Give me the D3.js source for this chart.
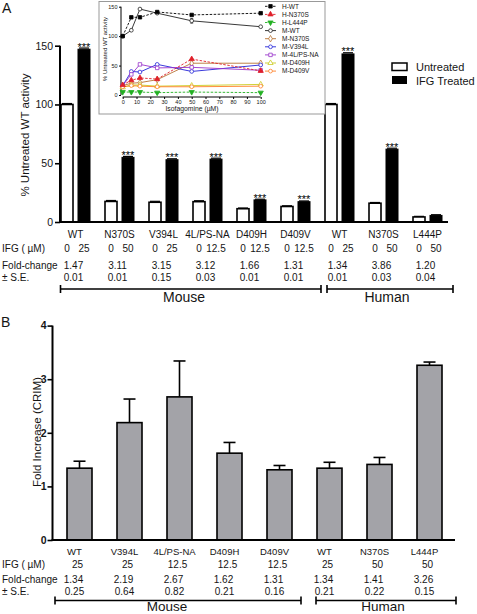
<!DOCTYPE html>
<html><head><meta charset="utf-8">
<script src="https://cdn.jsdelivr.net/npm/d3@7"></script>
<style>
html,body{margin:0;padding:0;background:#fff;}
svg{display:block;font-family:"Liberation Sans",Arial,sans-serif;}
</style></head>
<body>
<svg id="c" width="477" height="614"></svg>
<script>
// ---------- Panel A data ----------
const groupsA = ["WT","N370S","V394L","4L/PS-NA","D409H","D409V","WT","N370S","L444P"];
const untreatedA = [100,17.5,16.8,17.3,11.3,13.2,100,16,4.3];
const treatedA = [147,55,53,53.5,18.8,17.3,143,62,5.6];
const errUntreatedA = [0.8,0.8,0.8,0.8,0.6,0.6,0.8,0.6,0.5];
const errTreatedA = [1,0.8,0.8,0.8,0.6,0.6,1,0.8,0.6];
const ifgDoseA = ["25","50","25","12.5","12.5","12.5","25","50","50"];
const foldA = ["1.47","3.11","3.15","3.12","1.66","1.31","1.34","3.86","1.20"];
const seA = ["0.01","0.01","0.15","0.03","0.01","0.01","0.01","0.03","0.04"];
const sigA = [true,true,true,true,true,true,true,true,false];
const yTicksA = [0,50,100,150];

// ---------- Inset data ----------
const insetX = [0,6.25,12.5,25,50,100];
const insetXTicks = [0,10,20,30,40,50,60,70,80,90,100];
const insetYTicks = [0,50,100,150];
const insetNames = ["H-WT","H-N370S","H-L444P","M-WT","M-N370S","M-V394L","M-4L/PS-NA","M-D409H","M-D409V"];
const sHWT    = [100,132,132,141,136,139];
const sHN370S = [17,25,29,27,61,41];
const sHL444P = [5,5,5,4,5,4];
const sMWT    = [100,110,146,139,126,116];
const sMN370S = [16,20,21,26,54,54];
const sMV394L = [16,40,39,52,40,51];
const sM4L    = [16,35,52,46,47,42];
const sMD409H = [13,17,17,15,16,18];
const sMD409V = [14,16,15,14,14,15];

// ---------- Panel B data ----------
const groupsB = ["WT","V394L","4L/PS-NA","D409H","D409V","WT","N370S","L444P"];
const foldB = [1.34,2.19,2.67,1.62,1.31,1.34,1.41,3.26];
const errB = [0.13,0.44,0.67,0.20,0.08,0.11,0.13,0.06];
const ifgB = ["25","25","12.5","12.5","12.5","25","50","50"];
const foldTxtB = ["1.34","2.19","2.67","1.62","1.31","1.34","1.41","3.26"];
const seB = ["0.25","0.64","0.82","0.21","0.16","0.21","0.22","0.15"];
const yTicksB = [0,1,2,3,4];

const svg = d3.select("#c");
const TXT = "#151515";

// ================= PANEL A =================
svg.append("text").attr("x",2).attr("y",13).attr("font-size",14).attr("fill",TXT).text("A");

const xA = d3.scaleBand().domain(d3.range(groupsA.length)).range([53.5,449.5]);
const xInA = d3.scaleBand().domain(["u","t"]).range([-14.5,14.5]).paddingInner(0.294);
const yA = d3.scaleLinear().domain([0,150]).range([222,45.7]);
const cA = i => xA(i) + xA.bandwidth()/2;

const gA = svg.append("g");
const yAxisA = d3.axisLeft(yA).tickValues(yTicksA).tickSize(5).tickPadding(2);
const ya = gA.append("g").attr("transform","translate(60,0)").call(yAxisA);
ya.select(".domain").attr("stroke","#000").attr("stroke-width",2).attr("d","M0,"+yA(150)+"V"+yA(0));
ya.selectAll(".tick line").attr("stroke","#000").attr("stroke-width",1.6);
ya.selectAll(".tick text").attr("font-size",10.5).attr("fill",TXT).attr("font-family","Liberation Sans, Arial");
gA.append("text").attr("transform","translate(29,135) rotate(-90)").attr("text-anchor","middle")
  .attr("font-size",11.5).attr("fill",TXT).text("% Untreated WT activity");

groupsA.forEach((g,i)=>{
  const xu = cA(i)+xInA("u"), xt = cA(i)+xInA("t"), bw = xInA.bandwidth();
  gA.append("line").attr("x1",xu+1).attr("x2",xu+bw-1).attr("y1",yA(untreatedA[i]+errUntreatedA[i])).attr("y2",yA(untreatedA[i]+errUntreatedA[i])).attr("stroke","#000").attr("stroke-width",1.2);
  gA.append("rect").attr("x",xu).attr("y",yA(untreatedA[i])).attr("width",bw).attr("height",yA(0)-yA(untreatedA[i]))
    .attr("fill","#fff").attr("stroke","#000").attr("stroke-width",1.6);
  gA.append("line").attr("x1",xt+1).attr("x2",xt+bw-1).attr("y1",yA(treatedA[i]+errTreatedA[i])).attr("y2",yA(treatedA[i]+errTreatedA[i])).attr("stroke","#000").attr("stroke-width",1.2);
  gA.append("rect").attr("x",xt).attr("y",yA(treatedA[i])).attr("width",bw).attr("height",yA(0)-yA(treatedA[i]))
    .attr("fill","#000").attr("stroke","#000").attr("stroke-width",1);
  if(sigA[i]) gA.append("text").attr("x",xt+bw/2).attr("y",yA(treatedA[i]+errTreatedA[i])+2.5).attr("text-anchor","middle")
    .attr("font-size",11).attr("fill","#000").text("***");
  gA.append("text").attr("x",cA(i)).attr("y",238).attr("text-anchor","middle").attr("font-size",10).attr("fill",TXT).text(g);
  gA.append("text").attr("x",xu+bw/2).attr("y",251.5).attr("text-anchor","middle").attr("font-size",10).attr("fill",TXT).text("0");
  gA.append("text").attr("x",xt+bw/2).attr("y",251.5).attr("text-anchor","middle").attr("font-size",10).attr("fill",TXT).text(ifgDoseA[i]);
  gA.append("text").attr("x",cA(i)-2).attr("y",269).attr("text-anchor","middle").attr("font-size",10).attr("fill",TXT).text(foldA[i]);
  gA.append("text").attr("x",cA(i)-2).attr("y",280.5).attr("text-anchor","middle").attr("font-size",10).attr("fill",TXT).text(seA[i]);
});
gA.append("line").attr("x1",59).attr("x2",448).attr("y1",222).attr("y2",222).attr("stroke","#000").attr("stroke-width",2);

gA.append("text").attr("x",2).attr("y",251.5).attr("font-size",10).attr("fill",TXT).text("IFG ( µM)");
gA.append("text").attr("x",2).attr("y",269).attr("font-size",10).attr("fill",TXT).text("Fold-change");
gA.append("text").attr("x",2).attr("y",280.5).attr("font-size",10).attr("fill",TXT).text("± S.E.");

function bracket(g,x1,x2,y,h){
  g.append("line").attr("x1",x1).attr("x2",x2).attr("y1",y).attr("y2",y).attr("stroke","#000").attr("stroke-width",1.6);
  g.append("line").attr("x1",x1).attr("x2",x1).attr("y1",y-h).attr("y2",y+h).attr("stroke","#000").attr("stroke-width",1.6);
  g.append("line").attr("x1",x2).attr("x2",x2).attr("y1",y-h).attr("y2",y+h).attr("stroke","#000").attr("stroke-width",1.6);
}
bracket(gA,60.5,321,289,4);
bracket(gA,327,453,289,4);
gA.append("text").attr("x",184).attr("y",302).attr("text-anchor","middle").attr("font-size",14).attr("fill",TXT).text("Mouse");
gA.append("text").attr("x",387).attr("y",302).attr("text-anchor","middle").attr("font-size",14).attr("fill",TXT).text("Human");

gA.append("rect").attr("x",392).attr("y",63).attr("width",15).attr("height",7.5).attr("fill","#fff").attr("stroke","#000").attr("stroke-width",1.5);
gA.append("rect").attr("x",392).attr("y",76).attr("width",15).attr("height",8).attr("fill","#000");
gA.append("text").attr("x",416).attr("y",71).attr("font-size",11).attr("fill",TXT).text("Untreated");
gA.append("text").attr("x",416).attr("y",84.5).attr("font-size",11).attr("fill",TXT).text("IFG Treated");

// ================= INSET =================
const gI = svg.append("g");
gI.append("rect").attr("x",99).attr("y",1.5).attr("width",226).attr("height",112.5).attr("fill","#fff").attr("stroke","#999").attr("stroke-width",1);
const xi = d3.scaleLinear().domain([0,100]).range([122.7,260.7]);
const yi = d3.scaleLinear().domain([0,150]).range([95,6.7]);
const xia = gI.append("g").attr("transform","translate(0,97)").call(d3.axisBottom(xi).tickValues(insetXTicks).tickSize(2).tickPadding(1.5));
xia.select(".domain").attr("stroke","#000").attr("stroke-width",1).attr("d","M"+xi(0)+",0H"+xi(100));
xia.selectAll(".tick line").attr("stroke","#000");
xia.selectAll(".tick text").attr("font-size",5.5).attr("fill",TXT);
const yia = gI.append("g").attr("transform","translate(121,0)").call(d3.axisLeft(yi).tickValues(insetYTicks).tickSize(2).tickPadding(1.5));
yia.select(".domain").attr("stroke","#000").attr("stroke-width",1).attr("d","M0,"+yi(150)+"V"+yi(0));
yia.selectAll(".tick line").attr("stroke","#000");
yia.selectAll(".tick text").attr("font-size",5.5).attr("fill",TXT);
gI.append("text").attr("x",192).attr("y",111).attr("text-anchor","middle").attr("font-size",6.8).attr("fill",TXT).text("Isofagomine (µM)");
gI.append("text").attr("transform","translate(107,49) rotate(-90)").attr("text-anchor","middle").attr("font-size",6).attr("fill",TXT).text("% Untreated WT activity");

const seriesDefs = [
  {vals:sHWT,   color:"#000000", dash:"2.5,1.5", sym:d3.symbolSquare,   filled:true},
  {vals:sHN370S,color:"#e0202a", dash:"2.5,1.5", sym:d3.symbolTriangle, filled:true},
  {vals:sHL444P,color:"#22b022", dash:"2.5,1.5", sym:"tridown",         filled:true},
  {vals:sMWT,   color:"#222222", dash:null,      sym:d3.symbolCircle,   filled:false},
  {vals:sMN370S,color:"#b87333", dash:null,      sym:d3.symbolDiamond,  filled:false},
  {vals:sMV394L,color:"#2424d8", dash:null,      sym:d3.symbolCircle,   filled:false},
  {vals:sM4L,   color:"#9933cc", dash:null,      sym:d3.symbolSquare,   filled:false},
  {vals:sMD409H,color:"#cccc22", dash:null,      sym:d3.symbolTriangle, filled:false},
  {vals:sMD409V,color:"#ff7f27", dash:null,      sym:d3.symbolCircle,   filled:false}
];
function drawSym(g,def,x,y){
  let s = def.sym === "tridown" ? d3.symbolTriangle : def.sym;
  g.append("path").attr("d",d3.symbol().type(s).size(def.sym===d3.symbolCircle?11:12)())
    .attr("transform","translate("+x+","+y+")"+(def.sym==="tridown"?" rotate(180)":""))
    .attr("fill",def.filled?def.color:"#fff").attr("stroke",def.color).attr("stroke-width",0.8);
}
const lineI = d3.line().x((d,i)=>xi(insetX[i])).y(d=>yi(d));
const order = [3,4,5,6,7,8,0,1,2];
order.forEach(k=>{
  const def = seriesDefs[k];
  gI.append("path").attr("d",lineI(def.vals)).attr("fill","none").attr("stroke",def.color).attr("stroke-width",0.9)
    .attr("stroke-dasharray",def.dash);
});
gI.append("line").attr("x1",xi(50)).attr("x2",xi(50)).attr("y1",yi(sMWT[4]-4)).attr("y2",yi(sMWT[4]+4)).attr("stroke","#222").attr("stroke-width",0.7);
gI.append("line").attr("x1",xi(50)-1.5).attr("x2",xi(50)+1.5).attr("y1",yi(sMWT[4]-4)).attr("y2",yi(sMWT[4]-4)).attr("stroke","#222").attr("stroke-width",0.7);
gI.append("line").attr("x1",xi(50)-1.5).attr("x2",xi(50)+1.5).attr("y1",yi(sMWT[4]+4)).attr("y2",yi(sMWT[4]+4)).attr("stroke","#222").attr("stroke-width",0.7);
order.forEach(k=>{
  const def = seriesDefs[k];
  def.vals.forEach((v,i)=>drawSym(gI,def,xi(insetX[i]),yi(v)));
});
insetNames.forEach((n,k)=>{
  const def = seriesDefs[k];
  const y = 6.3 + k*8.1;
  gI.append("line").attr("x1",265).attr("x2",276).attr("y1",y).attr("y2",y).attr("stroke",def.color).attr("stroke-width",0.9).attr("stroke-dasharray",def.dash);
  drawSym(gI,def,270.5,y);
  gI.append("text").attr("x",282).attr("y",y+2.2).attr("font-size",6.5).attr("fill",TXT).text(n);
});

// ================= PANEL B =================
svg.append("text").attr("x",1).attr("y",327).attr("font-size",14).attr("fill",TXT).text("B");
const gB = svg.append("g");
const xB = d3.scaleBand().domain(d3.range(groupsB.length)).range([54.5,454.5]).paddingInner(0.5).paddingOuter(0.25);
const yB = d3.scaleLinear().domain([0,4]).range([540,325.6]);
const cB = i => xB(i) + xB.bandwidth()/2;

const yb = gB.append("g").attr("transform","translate(52.5,0)").call(d3.axisLeft(yB).tickValues(yTicksB).tickFormat(d3.format("d")).tickSize(5).tickPadding(1));
yb.select(".domain").attr("stroke","#000").attr("stroke-width",2).attr("d","M0,"+yB(4)+"V"+yB(0));
yb.selectAll(".tick line").attr("stroke","#000").attr("stroke-width",1.6);
yb.selectAll(".tick text").attr("font-size",10.5).attr("font-weight","bold").attr("fill",TXT);
gB.append("text").attr("transform","translate(40.5,432) rotate(-90)").attr("text-anchor","middle").attr("font-size",11.5).attr("fill",TXT).text("Fold Increase (CRIM)");

groupsB.forEach((g,i)=>{
  const x = xB(i), bw = xB.bandwidth(), c = cB(i);
  const top = yB(foldB[i]), et = yB(foldB[i]+errB[i]);
  gB.append("line").attr("x1",c).attr("x2",c).attr("y1",top).attr("y2",et).attr("stroke","#000").attr("stroke-width",1.6);
  gB.append("line").attr("x1",c-6).attr("x2",c+6).attr("y1",et).attr("y2",et).attr("stroke","#000").attr("stroke-width",1.6);
  gB.append("rect").attr("x",x).attr("y",top).attr("width",bw).attr("height",yB(0)-top)
    .attr("fill","#a3a3a8").attr("stroke","#000").attr("stroke-width",1.6);
  gB.append("text").attr("x",c-5).attr("y",555).attr("text-anchor","middle").attr("font-size",9.5).attr("fill",TXT).text(g);
  gB.append("text").attr("x",c-2).attr("y",568).attr("text-anchor","middle").attr("font-size",10).attr("fill",TXT).text(ifgB[i]);
  gB.append("text").attr("x",c-6).attr("y",583).attr("text-anchor","middle").attr("font-size",10).attr("fill",TXT).text(foldTxtB[i]);
  gB.append("text").attr("x",c-5).attr("y",594.5).attr("text-anchor","middle").attr("font-size",10).attr("fill",TXT).text(seB[i]);
});
gB.append("line").attr("x1",51.5).attr("x2",455).attr("y1",540).attr("y2",540).attr("stroke","#000").attr("stroke-width",2);

gB.append("text").attr("x",2).attr("y",568).attr("font-size",10).attr("fill",TXT).text("IFG ( µM)");
gB.append("text").attr("x",2).attr("y",583).attr("font-size",10).attr("fill",TXT).text("Fold-change");
gB.append("text").attr("x",2).attr("y",594.5).attr("font-size",10).attr("fill",TXT).text("± S.E.");
bracket(gB,55,301,600.5,4);
bracket(gB,316,456,600.5,4);
gB.append("text").attr("x",167).attr("y",611).attr("text-anchor","middle").attr("font-size",13.5).attr("fill",TXT).text("Mouse");
gB.append("text").attr("x",383).attr("y",611).attr("text-anchor","middle").attr("font-size",13.5).attr("fill",TXT).text("Human");
</script>
</body></html>
